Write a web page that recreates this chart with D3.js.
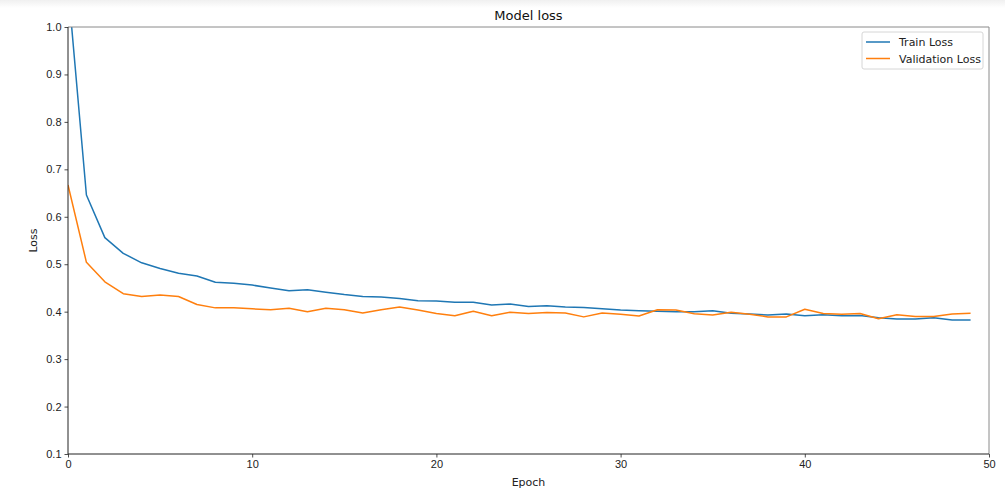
<!DOCTYPE html>
<html>
<head>
<meta charset="utf-8">
<script src="https://cdn.jsdelivr.net/npm/d3@7/dist/d3.min.js"></script>
<style>
  html, body { margin: 0; padding: 0; background: #fff; }
  body { width: 1005px; height: 502px; overflow: hidden; position: relative; }
  .topshade { position: absolute; left: 0; top: 0; width: 1005px; height: 8px;
    background: linear-gradient(#f0f0f0, #ffffff); }
  svg { position: absolute; left: 0; top: 0; font-family: "DejaVu Sans", sans-serif; }
  .tick text { font-size: 11px; fill: #222; }
</style>
</head>
<body>
<div class="topshade"></div>
<svg id="chart" width="1005" height="502"></svg>
<script>
// loss per epoch
const epochs = d3.range(0, 50);
const trainLoss = [
  1.088, 0.646, 0.556, 0.523, 0.503, 0.491, 0.481, 0.475, 0.462, 0.460,
  0.456, 0.450, 0.444, 0.446, 0.441, 0.436, 0.432, 0.431, 0.428, 0.423,
  0.4225, 0.420, 0.420, 0.414, 0.416, 0.411, 0.4125, 0.410, 0.409, 0.406,
  0.4035, 0.402, 0.401, 0.400, 0.400, 0.402, 0.3965, 0.395, 0.393, 0.395,
  0.3915, 0.3935, 0.3915, 0.392, 0.387, 0.3845, 0.3845, 0.387, 0.3825, 0.3825
];
const valLoss = [
  0.667, 0.504, 0.463, 0.438, 0.432, 0.435, 0.432, 0.415, 0.408, 0.408,
  0.406, 0.404, 0.407, 0.400, 0.407, 0.404, 0.397, 0.404, 0.410, 0.4035,
  0.396, 0.3915, 0.401, 0.3915, 0.399, 0.396, 0.3985, 0.397, 0.389, 0.397,
  0.3945, 0.391, 0.404, 0.4035, 0.3957, 0.393, 0.399, 0.3945, 0.389, 0.389,
  0.405, 0.396, 0.3945, 0.396, 0.385, 0.3935, 0.390, 0.390, 0.395, 0.3965
];
const xTicks = [0, 10, 20, 30, 40, 50];
const yTicks = [0.1, 0.2, 0.3, 0.4, 0.5, 0.6, 0.7, 0.8, 0.9, 1.0];
const seriesNames = ['Train Loss', 'Validation Loss'];
const seriesColors = ['#1f77b4', '#ff7f0e'];

const margin = { left: 68, right: 16, top: 27, bottom: 48 };
const W = 1005, H = 502;
const svg = d3.select('#chart');

const x = d3.scaleLinear().domain([0, 50]).range([margin.left, W - margin.right]);
const y = d3.scaleLinear().domain([0.1, 1.0]).range([H - margin.bottom, margin.top]);

svg.append('defs').append('clipPath').attr('id', 'plot')
  .append('rect')
  .attr('x', x(0)).attr('y', y(1.0))
  .attr('width', x(50) - x(0)).attr('height', y(0.1) - y(1.0));

// lines
const line = d3.line().x((d, i) => x(epochs[i])).y((d) => y(d));
const gLines = svg.append('g').attr('clip-path', 'url(#plot)');
[trainLoss, valLoss].forEach((s, k) => {
  gLines.append('path').datum(s)
    .attr('d', line)
    .attr('fill', 'none')
    .attr('stroke', seriesColors[k])
    .attr('stroke-width', 1.5)
    .attr('stroke-linejoin', 'round');
});

// axes
const gx = svg.append('g').attr('transform', `translate(0,${y(0.1)})`)
  .call(d3.axisBottom(x).tickValues(xTicks).tickSize(3.5).tickPadding(3).tickFormat(d3.format('d')));
const gy = svg.append('g').attr('transform', `translate(${x(0)},0)`)
  .call(d3.axisLeft(y).tickValues(yTicks).tickSize(3.5).tickPadding(3).tickFormat(d3.format('.1f')));
[gx, gy].forEach((g) => {
  g.select('.domain').remove();
  g.selectAll('.tick line').attr('stroke', '#222').attr('stroke-width', 0.8);
});

// frame: left/bottom dark, top/right a little lighter as in the picture
svg.append('line').attr('x1', x(0)).attr('x2', x(50)).attr('y1', y(1.0)).attr('y2', y(1.0))
  .attr('stroke', '#8a8a8a').attr('stroke-width', 1);
svg.append('line').attr('x1', x(50)).attr('x2', x(50)).attr('y1', y(1.0)).attr('y2', y(0.1))
  .attr('stroke', '#8a8a8a').attr('stroke-width', 1);
svg.append('line').attr('x1', x(0)).attr('x2', x(0)).attr('y1', y(1.0)).attr('y2', y(0.1))
  .attr('stroke', '#222').attr('stroke-width', 1);
svg.append('line').attr('x1', x(0)).attr('x2', x(50)).attr('y1', y(0.1)).attr('y2', y(0.1))
  .attr('stroke', '#222').attr('stroke-width', 1);

// labels
svg.append('text').attr('x', (x(0) + x(50)) / 2).attr('y', 20)
  .attr('text-anchor', 'middle').attr('font-size', 13).attr('fill', '#111')
  .text('Model loss');
svg.append('text').attr('x', (x(0) + x(50)) / 2).attr('y', 486)
  .attr('text-anchor', 'middle').attr('font-size', 11).attr('fill', '#222')
  .text('Epoch');
svg.append('text').attr('transform', `translate(37,${(y(0.1) + y(1.0)) / 2}) rotate(-90)`)
  .attr('text-anchor', 'middle').attr('font-size', 11).attr('fill', '#222')
  .text('Loss');

// legend
const lg = svg.append('g').attr('transform', `translate(${x(50) - 127},${y(1.0) + 5})`);
lg.append('rect').attr('width', 121).attr('height', 37).attr('rx', 2)
  .attr('fill', '#fff').attr('fill-opacity', 0.8).attr('stroke', '#d6d6d6');
seriesNames.forEach((n, k) => {
  const yy = 10 + k * 16.5;
  lg.append('line').attr('x1', 4).attr('x2', 28).attr('y1', yy).attr('y2', yy)
    .attr('stroke', seriesColors[k]).attr('stroke-width', 1.5);
  lg.append('text').attr('x', 37).attr('y', yy + 4).attr('font-size', 11).attr('fill', '#222')
    .text(n);
});
</script>
</body>
</html>
